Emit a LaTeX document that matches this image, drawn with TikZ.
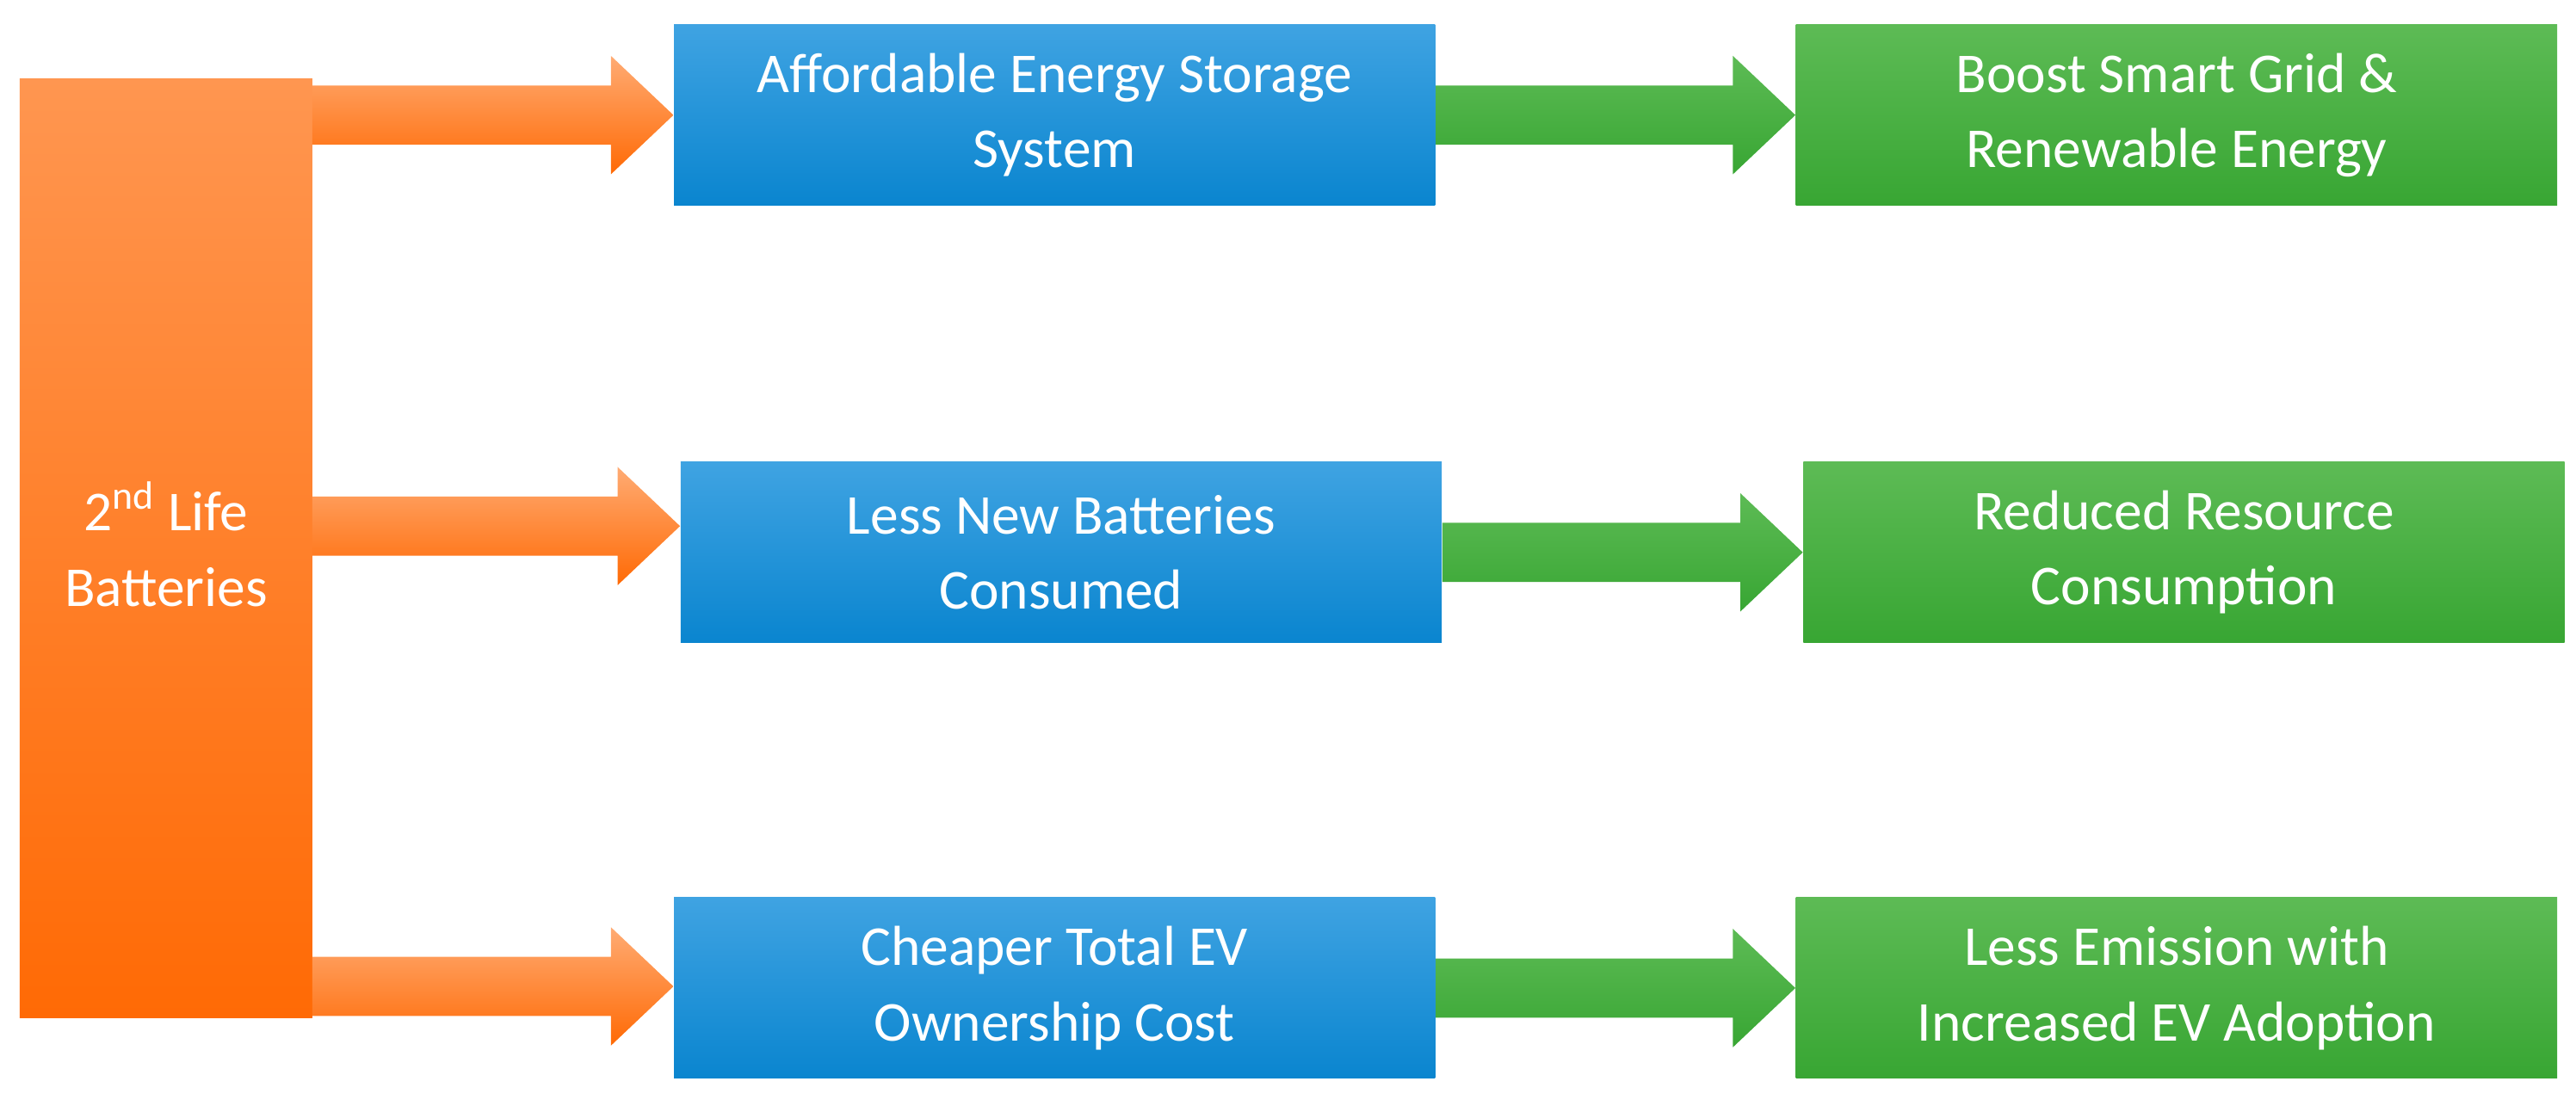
\documentclass[tikz,border=0pt]{standalone}
\usepackage{fontspec}
\setmainfont{Carlito}
\usetikzlibrary{positioning,calc}
\definecolor{bluetop}{HTML}{3FA3E2}
\definecolor{bluebot}{HTML}{0A85CF}
\definecolor{greentop}{HTML}{5DBB55}
\definecolor{greenbot}{HTML}{38A633}
\definecolor{orangetop}{HTML}{FF9650}
\definecolor{orangebot}{HTML}{FF6A05}
\tikzset{
  box/.style={minimum width=9.26cm, minimum height=2.2cm, align=center,
    text=white, font=\fontsize{19.5}{26}\selectfont, inner sep=0pt},
  bluebox/.style={box, top color=bluetop, bottom color=bluebot},
  greenbox/.style={box, top color=greentop, bottom color=greenbot},
}
% block arrow: start, end, shading
\newcommand{\blockarrow}[3]{%
  \path (#1) coordinate (s) (#2) coordinate (t);
  \shade[#3] ($(s)+(0,-0.36)$) -- ($(t)+(-0.76,-0.36)$) -- ($(t)+(-0.76,-0.72)$)
    -- (t) -- ($(t)+(-0.76,0.72)$) -- ($(t)+(-0.76,0.36)$) -- ($(s)+(0,0.36)$) -- cycle;}
\begin{document}
\begin{tikzpicture}[font=\fontsize{19.5}{26}\selectfont]
  \useasboundingbox (0,0) rectangle (31.34,13.38);
  % source
  \shade[top color=orangetop, bottom color=orangebot]
    (0.24,1.0) rectangle (3.8,12.42);
  \node[text=white, align=center] (src) at (2.02,6.76) {2\textsuperscript{nd} Life\\Batteries};
  % middle column
  \node[bluebox] (b1) at (12.83,11.98) {Affordable Energy Storage\\System};
  \node[bluebox] (b2) at (12.91,6.66) {Less New Batteries\\Consumed};
  \node[bluebox] (b3) at (12.83,1.36) {Cheaper Total EV\\Ownership Cost};
  % right column
  \node[greenbox] (g1) at (26.48,11.98) {Boost Smart Grid \&\\Renewable Energy};
  \node[greenbox] (g2) at (26.57,6.66) {Reduced Resource\\Consumption};
  \node[greenbox] (g3) at (26.48,1.36) {Less Emission with\\Increased EV Adoption};
  % arrows
  \foreach \b/\y in {b1/11.98, b2/6.98, b3/1.38}
    {\blockarrow{3.8,\y}{\b.west |- 0,\y}{top color=orangetop!80!white, bottom color=orangebot}}
  \foreach \b/\g in {b1/g1, b2/g2, b3/g3}
    {\blockarrow{\b.east}{\g.west}{top color=greentop, bottom color=greenbot}}
\end{tikzpicture}
\end{document}
